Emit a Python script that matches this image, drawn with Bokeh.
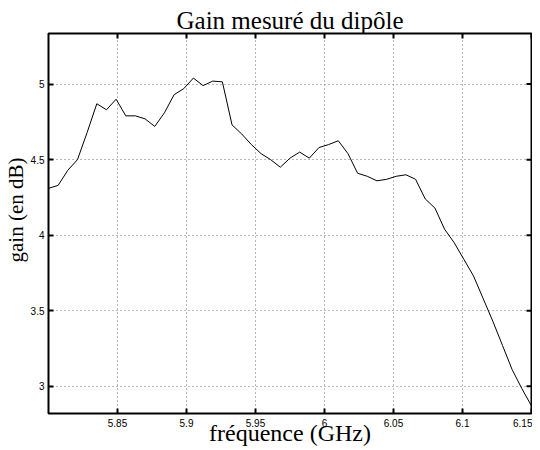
from bokeh.plotting import figure
from bokeh.models import FixedTicker, Range1d, Title
from bokeh.embed import file_html
from bokeh.resources import INLINE
import math

# Data
freq_ghz = [5.800, 5.807, 5.814, 5.821, 5.828, 5.835, 5.842, 5.849, 5.856, 5.863,
            5.870, 5.877, 5.884, 5.891, 5.898, 5.905, 5.912, 5.919, 5.926, 5.933,
            5.940, 5.947, 5.954, 5.961, 5.968, 5.975, 5.982, 5.989, 5.996, 6.003,
            6.010, 6.017, 6.024, 6.031, 6.038, 6.045, 6.052, 6.059, 6.066, 6.073,
            6.080, 6.087, 6.094, 6.101, 6.108, 6.115, 6.122, 6.129, 6.136, 6.143,
            6.150]
gain_db = [4.31, 4.33, 4.43, 4.50, 4.68, 4.87, 4.83, 4.90, 4.79, 4.79,
           4.77, 4.72, 4.81, 4.93, 4.97, 5.04, 4.99, 5.02, 5.015, 4.73,
           4.67, 4.60, 4.54, 4.50, 4.45, 4.51, 4.55, 4.51, 4.58, 4.60,
           4.625, 4.54, 4.41, 4.39, 4.36, 4.37, 4.39, 4.40, 4.37, 4.24,
           4.18, 4.04, 3.95, 3.84, 3.73, 3.58, 3.43, 3.27, 3.11, 2.985,
           2.87]

x_ticks = [5.85, 5.9, 5.95, 6.0, 6.05, 6.1, 6.15]
x_tick_labels = ["5.85", "5.9", "5.95", "6", "6.05", "6.1", "6.15"]
y_ticks = [3.0, 3.5, 4.0, 4.5, 5.0]
y_tick_labels = ["3", "3.5", "4", "4.5", "5"]

title_text = "Gain mesuré du dipôle"
x_label = "fréquence (GHz)"
y_label = "gain (en dB)"

x_lim = (5.8, 6.15)
y_lim = (2.82, 5.335)

SERIF = "Liberation Serif"
SANS = "Liberation Sans"

p = figure(width=532, height=450, output_backend="svg", toolbar_location=None,
           x_range=Range1d(*x_lim), y_range=Range1d(*y_lim),
           min_border_left=48, min_border_right=1, min_border_top=33,
           min_border_bottom=37)

p.line(freq_ghz, gain_db, line_color="black", line_width=1)

p.outline_line_color = "black"
p.outline_line_width = 2
p.outline_line_alpha = 1
p.background_fill_color = "white"
p.border_fill_color = "white"

p.title.text = title_text
p.title.text_font = SERIF
p.title.text_font_size = "25px"
p.title.text_font_style = "normal"
p.title.text_color = "black"
p.title.align = "center"
p.title.standoff = 0

xt = FixedTicker(ticks=x_ticks, minor_ticks=[])
yt = FixedTicker(ticks=y_ticks, minor_ticks=[])

for ax, ticker, labels in ((p.xaxis[0], xt, x_tick_labels), (p.yaxis[0], yt, y_tick_labels)):
    ax.ticker = ticker
    ax.axis_line_color = None
    ax.major_tick_in = 5
    ax.major_tick_out = 0
    ax.major_tick_line_width = 2
    ax.major_tick_line_color = "black"
    ax.minor_tick_line_color = None
    ax.major_label_overrides = {t: l for t, l in zip(ticker.ticks, labels)}
    ax.major_label_text_font = SANS
    ax.major_label_text_font_size = "10px"
    ax.major_label_text_color = "black"
    ax.axis_label_text_font = SERIF
    ax.axis_label_text_font_style = "normal"
    ax.axis_label_text_color = "black"
p.xaxis[0].major_label_standoff = 5
p.yaxis[0].major_label_standoff = 4
p.xaxis[0].axis_label = x_label
p.xaxis[0].axis_label_text_font_size = "24px"
p.xaxis[0].axis_label_standoff = -10

# y label as a side title so that it can sit a little above the centre
p.add_layout(Title(text=y_label, align="left", offset=151, standoff=0,
                   text_font=SERIF, text_font_size="21px", text_font_style="normal",
                   text_color="black"), "left")

# inward ticks on the top and right edges of the box
p.ray(x=x_ticks, y=[y_lim[1]] * len(x_ticks), length=5, length_units="screen",
      angle=-math.pi / 2, line_color="black", line_width=2)
p.ray(x=[x_lim[1]] * len(y_ticks), y=y_ticks, length=5, length_units="screen",
      angle=math.pi, line_color="black", line_width=2)

for g, t in ((p.xgrid[0], xt), (p.ygrid[0], yt)):
    g.ticker = t
    g.grid_line_color = "#707070"
    g.grid_line_dash = "1 3"
    g.grid_line_width = 1

open("out.html", "w").write(file_html(p, INLINE))
